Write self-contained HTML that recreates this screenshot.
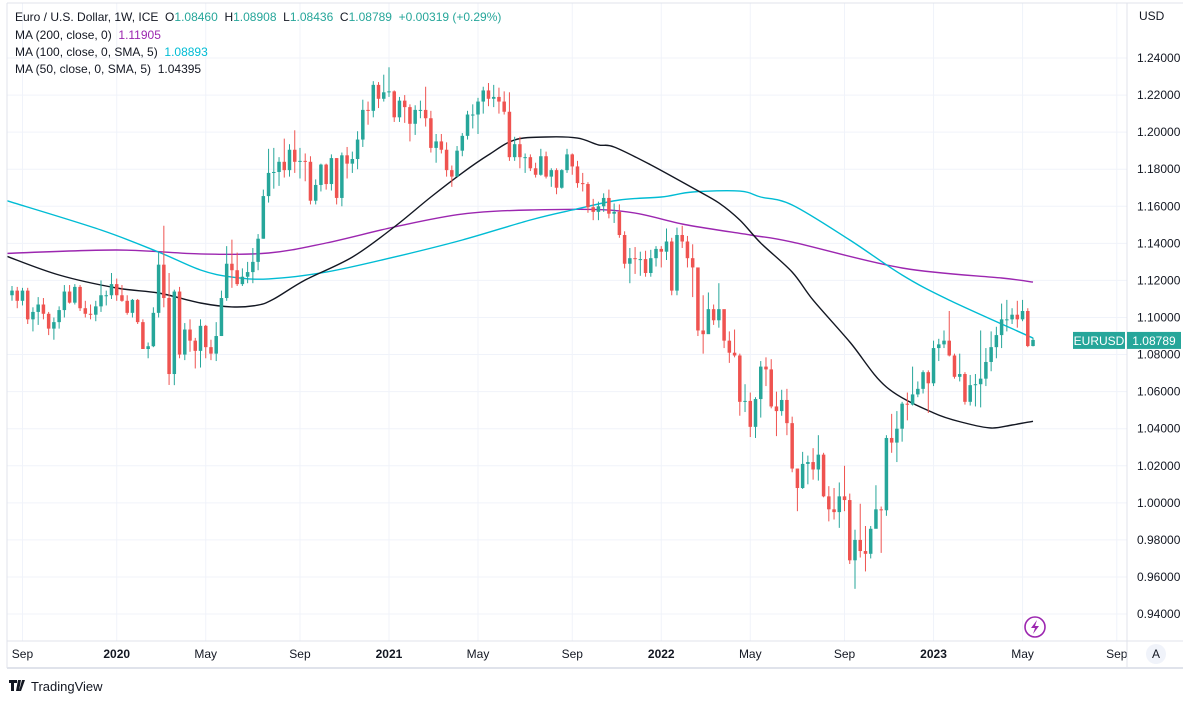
<!DOCTYPE html>
<html><head><meta charset="utf-8">
<style>
html,body{margin:0;padding:0;background:#fff;}
body{width:1183px;height:697px;overflow:hidden;font-family:"Liberation Sans",sans-serif;}
svg text{font-family:"Liberation Sans",sans-serif;white-space:pre;}
</style></head>
<body>
<svg id="chart" width="1183" height="697" xmlns="http://www.w3.org/2000/svg">
<g id="grid"></g>
<g id="mas"></g>
<g id="candles"></g>
<g id="axes"></g>
<g font-size="12" fill="#131722">
<text x="15" y="21">Euro / U.S. Dollar, 1W, ICE  O<tspan fill="#26a69a">1.08460</tspan>  H<tspan fill="#26a69a">1.08908</tspan>  L<tspan fill="#26a69a">1.08436</tspan>  C<tspan fill="#26a69a">1.08789</tspan>  <tspan fill="#26a69a">+0.00319 (+0.29%)</tspan></text>
<text x="15" y="39">MA (200, close, 0)  <tspan fill="#9c27b0">1.11905</tspan></text>
<text x="15" y="56">MA (100, close, 0, SMA, 5)  <tspan fill="#00bcd4">1.08893</tspan></text>
<text x="15" y="73">MA (50, close, 0, SMA, 5)  1.04395</text>
</g>
<g>
<circle cx="1035" cy="627" r="10" fill="none" stroke="#9c27b0" stroke-width="1.6"/>
<path d="M1037 620 L1031 628 L1035 628 L1033 634 L1039 626 L1035 626 Z" fill="#9c27b0"/>
</g>
<g>
<circle cx="1156" cy="654" r="10" fill="#f0f3fa"/>
<text x="1156" y="658" font-size="12" text-anchor="middle" fill="#131722">A</text>
</g>
<g>
<path d="M9 680 h8 v3 h-3 v8 h-3 v-8 h-2 z M18 680 h3 l-2 11 h-3 z M22 680 h3 l-4 11 h-2 z" fill="#131722"/>
<text x="31" y="691" font-size="13" fill="#131722">TradingView</text>
</g>
</svg>
<script>
const closes=[1.1145,1.1090,1.1145,1.0990,1.1030,1.1070,1.1020,1.0940,1.0975,1.1040,1.1140,1.1080,1.1165,1.1050,1.1020,1.1015,1.1060,1.1120,1.1120,1.1180,
1.1120,1.1090,1.1025,1.1095,1.0975,1.0830,1.0845,1.1025,1.1285,1.1105,1.0695,1.1140,1.0800,1.0935,1.0875,1.0820,1.0955,1.0840,1.0805,1.0900,
1.1105,1.1290,1.1255,1.1180,1.1220,1.1245,1.1300,1.1425,1.1655,1.1780,1.1785,1.1840,1.1795,1.1905,1.1840,1.1845,1.1840,1.1630,1.1715,1.1825,
1.1720,1.1860,1.1645,1.1875,1.1830,1.1855,1.1960,1.2120,1.2115,1.2255,1.2180,1.2215,1.2220,1.2080,1.2170,1.2135,1.2045,1.2120,1.2120,1.2075,
1.1915,1.1950,1.1905,1.1795,1.1760,1.1900,1.1980,1.2095,1.2095,1.2165,1.2225,1.2180,1.2190,1.2165,1.2110,1.1865,1.1935,1.1865,1.1865,1.1805,
1.1770,1.1870,1.1760,1.1795,1.1700,1.1795,1.1880,1.1815,1.1725,1.1720,1.1595,1.1570,1.1600,1.1645,1.1560,1.1570,1.1445,1.1290,1.1320,1.1315,
1.1315,1.1240,1.1320,1.1370,1.1355,1.1410,1.1145,1.1445,1.1410,1.1320,1.1270,1.0930,1.0910,1.1045,1.0985,1.1045,1.0875,1.0810,1.0795,1.0545,
1.0550,1.0410,1.0560,1.0735,1.0720,1.0520,1.0495,1.0555,1.0430,1.0185,1.0080,1.0210,1.0220,1.0180,1.0260,1.0035,0.9965,0.9950,1.0035,1.0015,
0.9690,0.9800,0.9740,0.9725,0.9860,0.9965,0.9960,1.0350,1.0325,1.0400,1.0535,1.0530,1.0585,1.0615,1.0705,1.0645,1.0835,1.0855,1.0875,1.0795,
1.0680,1.0695,1.0545,1.0635,1.0640,1.0670,1.0760,1.0840,1.0905,1.0990,1.0990,1.1015,1.0990,1.1035,1.0846,1.0879];
const highs=[1.1170,1.1165,1.1160,1.1160,1.1055,1.1110,1.1105,1.1030,1.1000,1.1060,1.1175,1.1175,1.1180,1.1175,1.1090,1.1070,1.1090,1.1200,1.1145,1.1240,
1.1210,1.1175,1.1120,1.1100,1.1100,1.0990,1.0865,1.1055,1.1355,1.1495,1.1240,1.1150,1.1165,1.0970,1.0990,1.0890,1.0990,1.0960,1.0880,1.0975,
1.1145,1.1385,1.1420,1.1350,1.1265,1.1300,1.1375,1.1450,1.1690,1.1910,1.1915,1.1865,1.1965,1.1935,1.2010,1.1915,1.1885,1.1870,1.1745,1.1830,
1.1830,1.1880,1.1860,1.1890,1.1920,1.1895,1.2005,1.2175,1.2165,1.2275,1.2270,1.2310,1.2350,1.2225,1.2190,1.2200,1.2150,1.2145,1.2170,1.2245,
1.2115,1.1990,1.1990,1.1945,1.1820,1.1925,1.1995,1.2115,1.2150,1.2185,1.2245,1.2265,1.2255,1.2240,1.2220,1.2215,1.1975,1.1975,1.1885,1.1880,
1.1835,1.1910,1.1895,1.1805,1.1805,1.1800,1.1910,1.1885,1.1845,1.1780,1.1730,1.1640,1.1625,1.1670,1.1690,1.1615,1.1610,1.1465,1.1375,1.1380,
1.1355,1.1360,1.1365,1.1385,1.1385,1.1480,1.1430,1.1485,1.1495,1.1440,1.1395,1.1235,1.1120,1.1135,1.1070,1.1185,1.1040,1.0925,1.0935,1.0805,
1.0640,1.0595,1.0570,1.0765,1.0785,1.0775,1.0600,1.0610,1.0615,1.0465,1.0185,1.0275,1.0255,1.0295,1.0365,1.0270,1.0090,1.0080,1.0110,1.0200,
1.0050,0.9855,0.9995,0.9875,0.9875,1.0095,0.9980,1.0365,1.0480,1.0495,1.0545,1.0595,1.0735,1.0655,1.0715,1.0715,1.0875,1.0885,1.0930,1.1035,
1.0805,1.0805,1.0705,1.0690,1.0695,1.0930,1.0835,1.0925,1.0950,1.1075,1.1095,1.1050,1.1090,1.1095,1.1050,1.0891];
const lows=[1.1090,1.1050,1.1065,1.0965,1.0925,1.0960,1.0990,1.0905,1.0880,1.0940,1.1000,1.1075,1.1070,1.1035,1.1000,1.0990,1.0980,1.1030,1.1065,1.1100,
1.1090,1.1085,1.1015,1.1000,1.0965,1.0830,1.0780,1.0840,1.1000,1.1055,1.0636,1.0635,1.0780,1.0770,1.0815,1.0725,1.0730,1.0780,1.0770,1.0765,
1.0900,1.1090,1.1160,1.1170,1.1170,1.1185,1.1185,1.1255,1.1425,1.1620,1.1695,1.1710,1.1755,1.1760,1.1780,1.1750,1.1735,1.1610,1.1610,1.1680,
1.1690,1.1685,1.1610,1.1600,1.1750,1.1780,1.1800,1.1920,1.2040,1.2080,1.2130,1.2165,1.2190,1.2055,1.2055,1.2050,1.1950,1.1985,1.2075,1.2030,
1.1890,1.1835,1.1885,1.1760,1.1705,1.1760,1.1870,1.1960,1.2020,1.1990,1.2100,1.2140,1.2135,1.2100,1.2095,1.1845,1.1845,1.1805,1.1780,1.1790,
1.1755,1.1765,1.1750,1.1705,1.1665,1.1695,1.1780,1.1770,1.1700,1.1680,1.1565,1.1525,1.1525,1.1570,1.1535,1.1510,1.1430,1.1265,1.1185,1.1235,
1.1225,1.1220,1.1220,1.1275,1.1270,1.1310,1.1120,1.1120,1.1375,1.1270,1.1110,1.0900,1.0805,1.0940,1.0960,1.0945,1.0835,1.0755,1.0785,1.0470,
1.0490,1.0355,1.0350,1.0460,1.0630,1.0510,1.0360,1.0470,1.0365,1.0165,0.9955,1.0075,1.0100,1.0125,1.0120,1.0030,0.9900,0.9910,0.9865,0.9955,
0.9670,0.9536,0.9705,0.9630,0.9700,0.9870,0.9730,0.9930,1.0270,1.0220,1.0330,1.0445,1.0525,1.0570,1.0590,1.0485,1.0630,1.0765,1.0835,1.0790,
1.0670,1.0655,1.0530,1.0525,1.0520,1.0515,1.0630,1.0710,1.0780,1.0835,1.0925,1.0965,1.0945,1.0980,1.0840,1.0844];
const firstOpen=1.1120;
const ma50Weeks=[-1,9,20,28,36,42,47,50,56,65,73,80,86,91,96,102,108,112,115,122,130,135,139,143,149,153,160,167,176,182,187,191,195];
const ma50Vals=[1.1330,1.1229,1.1159,1.1132,1.1078,1.1057,1.1067,1.1100,1.1202,1.1326,1.1488,1.1650,1.1780,1.1877,1.1958,1.1974,1.1968,1.1931,1.1920,1.1823,1.1699,1.1618,1.1526,1.1402,1.1245,1.1094,1.0868,1.0625,1.0485,1.0431,1.0404,1.0420,1.0440];
const ma100Weeks=[-1,17,28,36,42,49,60,73,86,99,107,116,124,130,139,143,149,160,170,179,195];
const ma100Vals=[1.1630,1.1472,1.1353,1.1256,1.1218,1.1208,1.1245,1.1326,1.1418,1.1526,1.1580,1.1634,1.1650,1.1677,1.1682,1.1650,1.1607,1.1418,1.1229,1.1094,1.0889];
const ma200Weeks=[-1,20,36,49,60,73,86,99,116,129,141,149,170,189,195];
const ma200Vals=[1.1346,1.1364,1.1343,1.1348,1.1402,1.1488,1.1558,1.1580,1.1575,1.1499,1.1445,1.1407,1.1267,1.1213,1.1191];
const priceTicks=[1.24,1.22,1.20,1.18,1.16,1.14,1.12,1.10,1.08,1.06,1.04,1.02,1.00,0.98,0.96,0.94];
const timeLabels=["Sep","2020","May","Sep","2021","May","Sep","2022","May","Sep","2023","May","Sep"];
const timeWeeks=[2,20,37,55,72,89,107,124,141,159,176,193,211];

const NS="http://www.w3.org/2000/svg";
const PL=7,PR=1127,PT=3,PB=641;
function x(i){return 12+5.236*i;}
function y(v){return 58+(1.24-v)/0.02*37.07;}
function mk(tag,attrs,parent){const e=document.createElementNS(NS,tag);for(const k in attrs)e.setAttribute(k,attrs[k]);parent.appendChild(e);return e;}
const grid=document.getElementById('grid'),axes=document.getElementById('axes'),cg=document.getElementById('candles'),mg=document.getElementById('mas');
mk('rect',{x:0,y:0,width:1183,height:697,fill:'#fff'},grid);
priceTicks.forEach((v,k)=>{
  const l=mk('line',{x1:PL,x2:PR,y1:y(v),y2:y(v),stroke:'#f0f3fa','stroke-width':1},grid);
  
  
  const t=mk('text',{x:1137,y:y(v)+4,'font-size':12,fill:'#131722'},axes);
  t.textContent=v.toFixed(5);
  
  
});
timeWeeks.forEach((w,k)=>{
  const xx=x(w);
  if(xx<PR){const l=mk('line',{x1:xx,x2:xx,y1:PT,y2:PB,stroke:'#f0f3fa','stroke-width':1},grid);
  
  }
  const lab=timeLabels[k];
  const bold=/^\d/.test(lab);
  const t=mk('text',{x:xx,y:658,'font-size':12,'text-anchor':'middle',fill:'#131722','font-weight':bold?'bold':'normal'},axes);
  t.textContent=lab;
  
  
});
mk('line',{x1:PL,x2:1183,y1:PT,y2:PT,stroke:'#e0e3eb'},axes);
mk('line',{x1:PL,x2:1183,y1:PB,y2:PB,stroke:'#e0e3eb'},axes);
mk('line',{x1:PL,x2:1183,y1:668,y2:668,stroke:'#e0e3eb','stroke-width':2},axes);
mk('line',{x1:PL,x2:PL,y1:PT,y2:668,stroke:'#e0e3eb'},axes);
mk('line',{x1:PR,x2:PR,y1:PT,y2:668,stroke:'#e0e3eb'},axes);
const usd=mk('text',{x:1139,y:20,'font-size':12,fill:'#131722'},axes);usd.textContent='USD';


function maPath(ws,vs,color,name){
  const pts=ws.map((w,k)=>[x(w),y(vs[k])]);
  let d='M'+pts[0][0].toFixed(1)+' '+pts[0][1].toFixed(1);
  for(let k=0;k<pts.length-1;k++){
    const p0=pts[Math.max(0,k-1)],p1=pts[k],p2=pts[k+1],p3=pts[Math.min(pts.length-1,k+2)];
    const c1=[p1[0]+(p2[0]-p0[0])/6,p1[1]+(p2[1]-p0[1])/6];
    const c2=[p2[0]-(p3[0]-p1[0])/6,p2[1]-(p3[1]-p1[1])/6];
    d+=' C'+c1[0].toFixed(1)+' '+c1[1].toFixed(1)+' '+c2[0].toFixed(1)+' '+c2[1].toFixed(1)+' '+p2[0].toFixed(1)+' '+p2[1].toFixed(1);
  }
  const p=mk('path',{d:d,fill:'none',stroke:color,'stroke-width':1.4,'stroke-linejoin':'round'},mg);
  
  
}
maPath(ma200Weeks,ma200Vals,'#9c27b0','ma200-line');
maPath(ma100Weeks,ma100Vals,'#00bcd4','ma100-line');
maPath(ma50Weeks,ma50Vals,'#131722','ma50-line');
closes.forEach((c,i)=>{
  const o=i?closes[i-1]:firstOpen;
  const up=c>=o, col=up?'#26a69a':'#ef5350';
  const g=mk('g',{},cg);
  
  
  const xx=x(i);
  mk('line',{x1:xx,x2:xx,y1:y(highs[i]),y2:y(lows[i]),stroke:col,'stroke-width':1},g);
  const top=y(Math.max(o,c)),bot=y(Math.min(o,c));
  mk('rect',{x:xx-1.75,y:top,width:3.5,height:Math.max(1,bot-top),fill:col},g);
});
const last=closes[closes.length-1];
const tg=mk('g',{},axes);


const ty=y(last);
mk('rect',{x:1073,y:ty-8,width:52,height:17,fill:'#26a69a'},tg);
mk('rect',{x:1127,y:ty-8,width:54,height:17,fill:'#26a69a'},tg);
const t1=mk('text',{x:1099,y:ty+5,'font-size':12,'text-anchor':'middle',fill:'#fff'},tg);t1.textContent='EURUSD';
const t2=mk('text',{x:1154,y:ty+5,'font-size':12,'text-anchor':'middle',fill:'#fff'},tg);
t2.textContent='1.08789';
</script>
</body></html>
